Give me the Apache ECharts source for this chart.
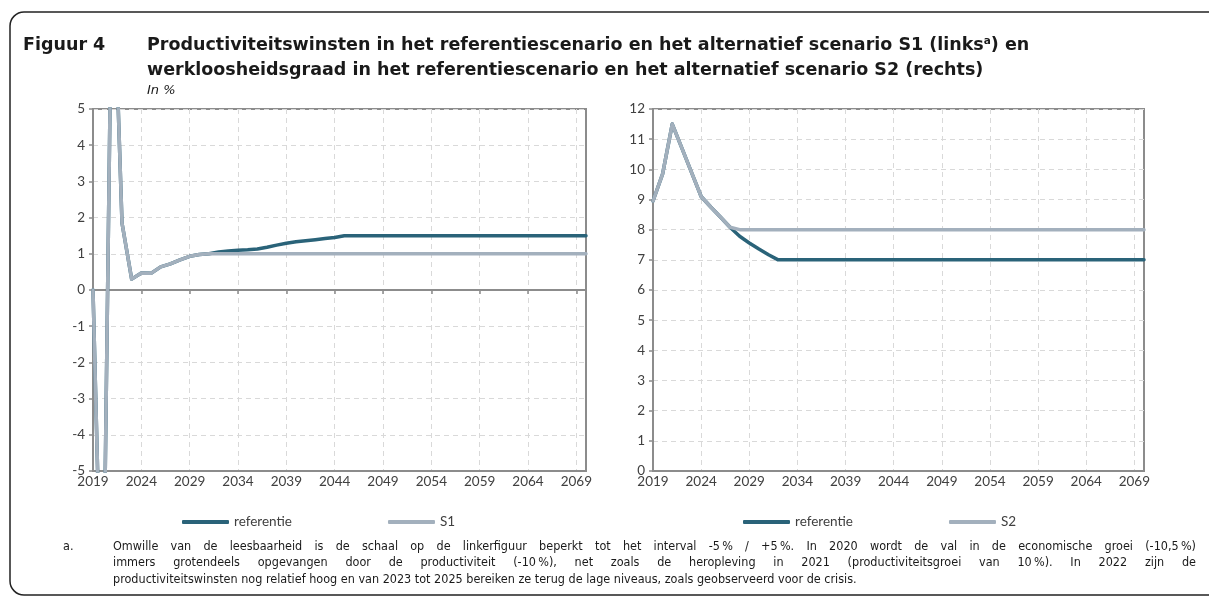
<!DOCTYPE html>
<html>
<head>
<meta charset="utf-8">
<script src="https://cdn.jsdelivr.net/npm/echarts@6/dist/echarts.min.js"></script>
<style>
  html, body { margin: 0; padding: 0; background: #fff; overflow: hidden; }
  #chart { width: 1209px; height: 597px; }
</style>
</head>
<body>
<div id="chart"></div>
<script>
// jaren 2019-2070
const jaren = [
  '2019','2020','2021','2022','2023','2024','2025','2026','2027','2028',
  '2029','2030','2031','2032','2033','2034','2035','2036','2037','2038',
  '2039','2040','2041','2042','2043','2044','2045','2046','2047','2048',
  '2049','2050','2051','2052','2053','2054','2055','2056','2057','2058',
  '2059','2060','2061','2062','2063','2064','2065','2066','2067','2068',
  '2069','2070'
];

// productiviteitswinsten (links), in %
const prodReferentie = [
  0.0, -10.5, 10.0, 1.85, 0.3, 0.47, 0.46, 0.64, 0.72, 0.83,
  0.93, 0.98, 1.0, 1.05, 1.08, 1.1, 1.11, 1.13, 1.18, 1.24,
  1.29, 1.33, 1.36, 1.39, 1.42, 1.45, 1.5, 1.5, 1.5, 1.5,
  1.5, 1.5, 1.5, 1.5, 1.5, 1.5, 1.5, 1.5, 1.5, 1.5,
  1.5, 1.5, 1.5, 1.5, 1.5, 1.5, 1.5, 1.5, 1.5, 1.5,
  1.5, 1.5
];
const prodS1 = [
  0.0, -10.5, 10.0, 1.85, 0.3, 0.47, 0.46, 0.64, 0.72, 0.83,
  0.93, 0.98, 1.0, 1.0, 1.0, 1.0, 1.0, 1.0, 1.0, 1.0,
  1.0, 1.0, 1.0, 1.0, 1.0, 1.0, 1.0, 1.0, 1.0, 1.0,
  1.0, 1.0, 1.0, 1.0, 1.0, 1.0, 1.0, 1.0, 1.0, 1.0,
  1.0, 1.0, 1.0, 1.0, 1.0, 1.0, 1.0, 1.0, 1.0, 1.0,
  1.0, 1.0
];

// werkloosheidsgraad (rechts), in %
const wlReferentie = [
  8.95, 9.85, 11.5, 10.7, 9.9, 9.1, 8.75, 8.42, 8.08, 7.78,
  7.56, 7.36, 7.17, 7.0, 7.0, 7.0, 7.0, 7.0, 7.0, 7.0,
  7.0, 7.0, 7.0, 7.0, 7.0, 7.0, 7.0, 7.0, 7.0, 7.0,
  7.0, 7.0, 7.0, 7.0, 7.0, 7.0, 7.0, 7.0, 7.0, 7.0,
  7.0, 7.0, 7.0, 7.0, 7.0, 7.0, 7.0, 7.0, 7.0, 7.0,
  7.0, 7.0
];
const wlS2 = [
  8.95, 9.85, 11.5, 10.7, 9.9, 9.1, 8.75, 8.42, 8.08, 8.0,
  8.0, 8.0, 8.0, 8.0, 8.0, 8.0, 8.0, 8.0, 8.0, 8.0,
  8.0, 8.0, 8.0, 8.0, 8.0, 8.0, 8.0, 8.0, 8.0, 8.0,
  8.0, 8.0, 8.0, 8.0, 8.0, 8.0, 8.0, 8.0, 8.0, 8.0,
  8.0, 8.0, 8.0, 8.0, 8.0, 8.0, 8.0, 8.0, 8.0, 8.0,
  8.0, 8.0
];

const titelRegel1 = 'Productiviteitswinsten in het referentiescenario en het alternatief scenario S1 (links';
const titelRegel1Eind = ') en';
const titelRegel2 = 'werkloosheidsgraad in het referentiescenario en het alternatief scenario S2 (rechts)';
const voetnoot = [
  'Omwille van de leesbaarheid is de schaal op de linkerfiguur beperkt tot het interval -5\u202f% / +5\u202f%. In 2020 wordt de val in de economische groei (-10,5\u202f%)',
  'immers grotendeels opgevangen door de productiviteit (-10\u202f%), net zoals de heropleving in 2021 (productiviteitsgroei van 10\u202f%). In 2022 zijn de',
  'productiviteitswinsten nog relatief hoog en van 2023 tot 2025 bereiken ze terug de lage niveaus, zoals geobserveerd voor de crisis.'
];

const DONKER = '#2A6379';
const LICHT = '#A3B0BD';
const AS = '#8c8c8c';
const GRID = '#d9d9d9';
const TEKST = '#404040';
const ZWART = '#1a1a1a';

// tekstmaat
const ctx = document.createElement('canvas').getContext('2d');
function meet(tekst, font) {
  ctx.font = font;
  return ctx.measureText(tekst).width;
}
const TITEL_FONT = 'DejaVu Sans';
const titelSize = Math.round(16 * 888 / meet(titelRegel1 + 'a' + titelRegel1Eind, 'bold 16px "' + TITEL_FONT + '"') * 2) / 2;
const NOOT_FONT = 'DejaVu Sans Condensed';
const nootSize = Math.round(12 * 735 / meet(voetnoot[2], '12px "' + NOOT_FONT + '"') * 2) / 2;

// voetnoot uitgevuld (woord per woord)
function uitgevuld(regel, x, y, breedte, vullen) {
  const font = nootSize + 'px "' + NOOT_FONT + '"';
  const woorden = regel.split(' ');
  const br = woorden.map(w => meet(w, font));
  const som = br.reduce((a, b) => a + b, 0);
  const gat = vullen ? (breedte - som) / (woorden.length - 1) : meet(' ', font);
  const els = [];
  let cx = x;
  woorden.forEach((w, i) => {
    els.push({
      type: 'text', x: cx, y: y, silent: true,
      style: { text: w, fontSize: nootSize, fontFamily: NOOT_FONT, fill: ZWART, verticalAlign: 'middle' }
    });
    cx += br[i] + gat;
  });
  return els;
}

function xAs(grid) {
  return {
    type: 'category', gridIndex: grid, data: jaren, boundaryGap: false,
    axisLine: { onZero: false, lineStyle: { color: AS, width: 2 } },
    axisTick: { show: false },
    axisLabel: { interval: 4, color: TEKST, fontFamily: 'Lato', fontSize: 13.5, margin: 4 },
    splitLine: { show: true, interval: 4, lineStyle: { color: GRID, type: [5, 4], width: 1 } }
  };
}
function yAs(grid, min, max) {
  return {
    type: 'value', gridIndex: grid, min: min, max: max, interval: 1,
    axisLine: { show: true, onZero: false, lineStyle: { color: AS, width: 2 } },
    axisTick: { show: true, length: 4, lineStyle: { color: AS, width: 1.5 } },
    axisLabel: { color: TEKST, fontFamily: 'Lato', fontSize: 13.5, margin: 8 },
    splitLine: { show: true, lineStyle: { color: GRID, type: [5, 4], width: 1 } }
  };
}
function lijn(naam, data, kleur, as) {
  return {
    name: naam, type: 'line', data: data, xAxisIndex: as, yAxisIndex: as,
    symbol: 'none', clip: true,
    lineStyle: { color: kleur, width: 3.5, cap: 'round', join: 'round' },
    itemStyle: { color: kleur },
    emphasis: { disabled: true }
  };
}
const legendeStijl = {
  top: 510, itemWidth: 47, itemHeight: 4, itemGap: 96, icon: 'roundRect',
  textStyle: { color: TEKST, fontFamily: 'Lato', fontSize: 13.5 }
};

const chart = echarts.init(document.getElementById('chart'));
const option = {
  animation: false,
  backgroundColor: '#fff',
  grid: [
    { left: 93, top: 109, width: 493, height: 362, show: true, borderColor: AS, borderWidth: 2 },
    { left: 653, top: 109, width: 491, height: 362, show: true, borderColor: AS, borderWidth: 2 }
  ],
  xAxis: [
    xAs(0),
    xAs(1),
    {
      // nullijn links met streepjes
      type: 'category', gridIndex: 0, data: jaren, boundaryGap: false, position: 'top',
      axisLine: { onZero: true, lineStyle: { color: AS, width: 2 } },
      axisTick: { show: true, inside: true, length: 4, interval: 4, lineStyle: { color: AS, width: 1.5 } },
      axisLabel: { show: false },
      splitLine: { show: false }
    }
  ],
  yAxis: [yAs(0, -5, 5), yAs(1, 0, 12)],
  legend: [
    Object.assign({ left: 177, data: ['referentie', 'S1'] }, legendeStijl),
    Object.assign({ left: 738, data: ['referentie', 'S2'] }, legendeStijl)
  ],
  series: [
    lijn('referentie', prodReferentie, DONKER, 0),
    lijn('S1', prodS1, LICHT, 0),
    lijn('referentie', wlReferentie, DONKER, 1),
    lijn('S2', wlS2, LICHT, 1)
  ],
  graphic: [
    {
      type: 'rect', silent: true,
      shape: { x: 10, y: 12, width: 1500, height: 583, r: 14 },
      style: { fill: 'none', stroke: '#222', lineWidth: 1.5 }
    },
    {
      type: 'text', x: 23, y: 45, silent: true,
      style: { text: 'Figuur 4', fontSize: titelSize, fontWeight: 'bold', fontFamily: TITEL_FONT, fill: ZWART, verticalAlign: 'middle' }
    },
    {
      type: 'text', x: 147, y: 45, silent: true,
      style: {
        text: titelRegel1 + '{sup|a}' + titelRegel1Eind,
        fontSize: titelSize, fontWeight: 'bold', fontFamily: TITEL_FONT, fill: ZWART, verticalAlign: 'middle',
        rich: { sup: { fontSize: titelSize * 0.6, fontWeight: 'bold', fontFamily: TITEL_FONT, fill: ZWART, verticalAlign: 'top' } }
      }
    },
    {
      type: 'text', x: 147, y: 70, silent: true,
      style: { text: titelRegel2, fontSize: titelSize, fontWeight: 'bold', fontFamily: TITEL_FONT, fill: ZWART, verticalAlign: 'middle' }
    },
    {
      type: 'text', x: 147, y: 91, silent: true,
      style: { text: 'In %', fontSize: 13, fontStyle: 'italic', fontFamily: TITEL_FONT, fill: ZWART, verticalAlign: 'middle' }
    },
    {
      type: 'text', x: 63, y: 547, silent: true,
      style: { text: 'a.', fontSize: nootSize, fontFamily: NOOT_FONT, fill: ZWART, verticalAlign: 'middle' }
    }
  ]
    .concat(uitgevuld(voetnoot[0], 113, 547, 1083, true))
    .concat(uitgevuld(voetnoot[1], 113, 563, 1083, true))
    .concat(uitgevuld(voetnoot[2], 113, 580, 1083, false))
};
chart.setOption(option);
</script>
</body>
</html>
